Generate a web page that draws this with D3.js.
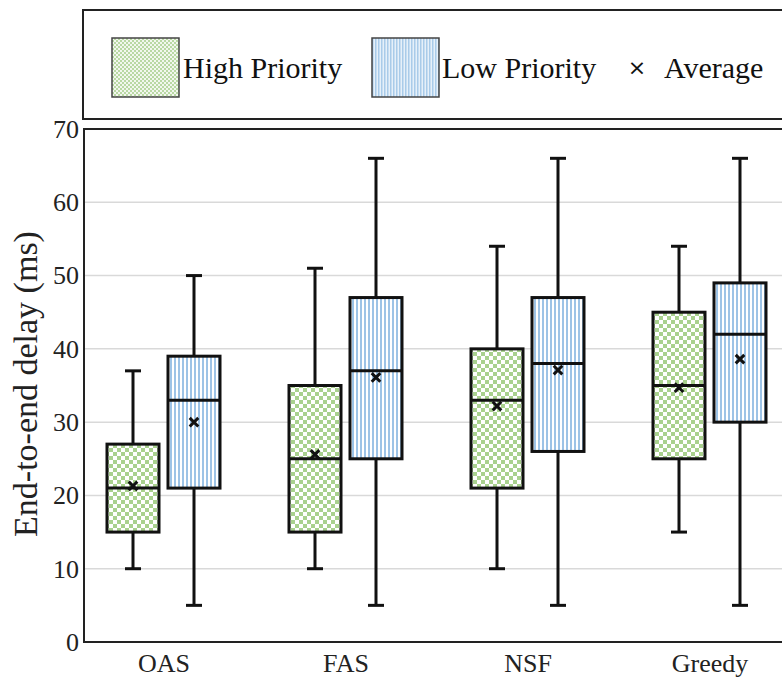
<!DOCTYPE html>
<html>
<head>
<meta charset="utf-8">
<script src="https://cdn.jsdelivr.net/npm/d3@7"></script>
<style>
  body { margin: 0; background: #fff; }
  svg { display: block; }
</style>
</head>
<body>
<svg id="chart" width="782" height="680"></svg>
<script>
'use strict';

// categories and series
const categories = ['OAS', 'FAS', 'NSF', 'Greedy'];
const seriesNames = ['High Priority', 'Low Priority'];

// high priority box stats
const highMin = [10, 10, 10, 15];
const highQ1 = [15, 15, 21, 25];
const highMedian = [21, 25, 33, 35];
const highQ3 = [27, 35, 40, 45];
const highMax = [37, 51, 54, 54];
const highMean = [21.3, 25.6, 32.2, 34.7];

// low priority box stats
const lowMin = [5, 5, 5, 5];
const lowQ1 = [21, 25, 26, 30];
const lowMedian = [33, 37, 38, 42];
const lowQ3 = [39, 47, 47, 49];
const lowMax = [50, 66, 66, 66];
const lowMean = [30.0, 36.1, 37.1, 38.6];

const yTicks = [0, 10, 20, 30, 40, 50, 60, 70];

const serif = 'Liberation Serif';

const svg = d3.select('#chart');
const plot_left = 84;
const plot_top = 129;
const plot_bottom = 642;
const plot_right = 800;

// PATTERNS
const defs = svg.append('defs');
const checker = defs.append('pattern')
  .attr('id', 'checker').attr('patternUnits', 'userSpaceOnUse')
  .attr('width', 8).attr('height', 8);
checker.append('rect').attr('width', 8).attr('height', 8).attr('fill', '#fff');
checker.append('rect').attr('width', 4).attr('height', 4).attr('fill', '#a9d18e');
checker.append('rect').attr('x', 4).attr('y', 4).attr('width', 4).attr('height', 4).attr('fill', '#a9d18e');

const stripes = defs.append('pattern')
  .attr('id', 'stripes').attr('patternUnits', 'userSpaceOnUse')
  .attr('width', 4).attr('height', 4);
stripes.append('rect').attr('width', 4).attr('height', 4).attr('fill', '#fff');
stripes.append('rect').attr('width', 2).attr('height', 4).attr('fill', '#9dc3e6');

// finer, lighter versions for the legend swatches
const checkerSmall = defs.append('pattern')
  .attr('id', 'checker-small').attr('patternUnits', 'userSpaceOnUse')
  .attr('width', 4).attr('height', 4);
checkerSmall.append('rect').attr('width', 4).attr('height', 4).attr('fill', '#f2f7ee');
checkerSmall.append('rect').attr('width', 2).attr('height', 2).attr('fill', '#b9d8a4');
checkerSmall.append('rect').attr('x', 2).attr('y', 2).attr('width', 2).attr('height', 2).attr('fill', '#b9d8a4');

const stripesSmall = defs.append('pattern')
  .attr('id', 'stripes-small').attr('patternUnits', 'userSpaceOnUse')
  .attr('width', 3).attr('height', 3);
stripesSmall.append('rect').attr('width', 3).attr('height', 3).attr('fill', '#e6f0f9');
stripesSmall.append('rect').attr('width', 1.5).attr('height', 3).attr('fill', '#a9cbe9');

// SCALES
const y = d3.scaleLinear().domain([0, 70]).range([plot_bottom, plot_top]);
const x = d3.scalePoint().domain(categories).range([163.5, 709.5]);
const xSub = d3.scalePoint().domain(seriesNames).range([-30.5, 30.5]);

// GRID
svg.append('g')
  .selectAll('line')
  .data(yTicks.filter(d => d > 0 && d < 70))
  .join('line')
  .attr('x1', plot_left).attr('x2', plot_right)
  .attr('y1', d => y(d)).attr('y2', d => y(d))
  .attr('stroke', '#d9d9d9').attr('stroke-width', 1.5);

// FRAME
svg.append('path')
  .attr('d', `M ${plot_right},${plot_top} L ${plot_left},${plot_top} L ${plot_left},${plot_bottom} L ${plot_right},${plot_bottom}`)
  .attr('fill', 'none').attr('stroke', '#222').attr('stroke-width', 2);

// AXES
const yAxis = svg.append('g')
  .attr('transform', `translate(${plot_left},0)`)
  .call(d3.axisLeft(y).tickValues(yTicks).tickSize(0).tickPadding(5));
yAxis.select('.domain').remove();
yAxis.selectAll('text')
  .style('font-family', serif)
  .style('font-size', '26px').attr('fill', '#222');

const xAxis = svg.append('g')
  .attr('transform', `translate(0,${plot_bottom})`)
  .call(d3.axisBottom(x).tickSize(0).tickPadding(12));
xAxis.select('.domain').remove();
xAxis.selectAll('text')
  .style('font-family', serif)
  .style('font-size', '26px').attr('fill', '#222');

svg.append('text')
  .attr('transform', 'translate(37,384) rotate(-90)')
  .attr('text-anchor', 'middle')
  .style('font-family', serif)
  .style('font-size', '34px').attr('fill', '#222')
  .text('End-to-end delay (ms)');

// BOXES
const boxes = [];
categories.forEach((c, i) => {
  boxes.push({ cat: c, series: seriesNames[0], fill: 'url(#checker)',
    min: highMin[i], q1: highQ1[i], median: highMedian[i], q3: highQ3[i], max: highMax[i], mean: highMean[i] });
  boxes.push({ cat: c, series: seriesNames[1], fill: 'url(#stripes)',
    min: lowMin[i], q1: lowQ1[i], median: lowMedian[i], q3: lowQ3[i], max: lowMax[i], mean: lowMean[i] });
});

const box_w = 52;
const cap_w = 16;
const g = svg.append('g')
  .selectAll('g')
  .data(boxes)
  .join('g')
  .attr('transform', d => `translate(${x(d.cat) + xSub(d.series)},0)`);

// whiskers
g.append('line')
  .attr('x1', 0).attr('x2', 0)
  .attr('y1', d => y(d.max)).attr('y2', d => y(d.min))
  .attr('stroke', '#111').attr('stroke-width', 3);
g.append('line')
  .attr('x1', -cap_w / 2).attr('x2', cap_w / 2)
  .attr('y1', d => y(d.max)).attr('y2', d => y(d.max))
  .attr('stroke', '#111').attr('stroke-width', 3);
g.append('line')
  .attr('x1', -cap_w / 2).attr('x2', cap_w / 2)
  .attr('y1', d => y(d.min)).attr('y2', d => y(d.min))
  .attr('stroke', '#111').attr('stroke-width', 3);

g.append('rect')
  .attr('x', -box_w / 2)
  .attr('y', d => y(d.q3))
  .attr('width', box_w)
  .attr('height', d => y(d.q1) - y(d.q3))
  .attr('fill', d => d.fill)
  .attr('stroke', '#111').attr('stroke-width', 3);

g.append('line')
  .attr('x1', -box_w / 2).attr('x2', box_w / 2)
  .attr('y1', d => y(d.median)).attr('y2', d => y(d.median))
  .attr('stroke', '#111').attr('stroke-width', 3);

// averages
g.append('path')
  .attr('transform', d => `translate(0,${y(d.mean)})`)
  .attr('d', d3.symbol(d3.symbolX, 50)())
  .attr('fill', 'none')
  .attr('stroke', '#111').attr('stroke-width', 3);

// LEGEND
const legend = svg.append('g');
legend.append('rect')
  .attr('x', 83).attr('y', 10).attr('width', 720).attr('height', 109)
  .attr('fill', '#fff').attr('stroke', '#222').attr('stroke-width', 2);

const legendItems = [
  { label: seriesNames[0], fill: 'url(#checker-small)', x: 112, tx: 183 },
  { label: seriesNames[1], fill: 'url(#stripes-small)', x: 372, tx: 442 }
];
legendItems.forEach(d => {
  legend.append('rect')
    .attr('x', d.x).attr('y', 38).attr('width', 67).attr('height', 59)
    .attr('fill', d.fill).attr('stroke', '#444').attr('stroke-width', 1.5);
  legend.append('text')
    .attr('x', d.tx).attr('y', 78)
    .style('font-family', serif)
    .style('font-size', '30px').attr('fill', '#111')
    .text(d.label);
});
legend.append('text')
  .attr('x', 637).attr('y', 75)
  .attr('text-anchor', 'middle')
  .style('font-family', 'DejaVu Sans')
  .style('font-size', '22px').attr('fill', '#111')
  .text('×');
legend.append('text')
  .attr('x', 664).attr('y', 78)
  .style('font-family', serif)
  .style('font-size', '30px').attr('fill', '#111')
  .text('Average');
</script>
</body>
</html>
